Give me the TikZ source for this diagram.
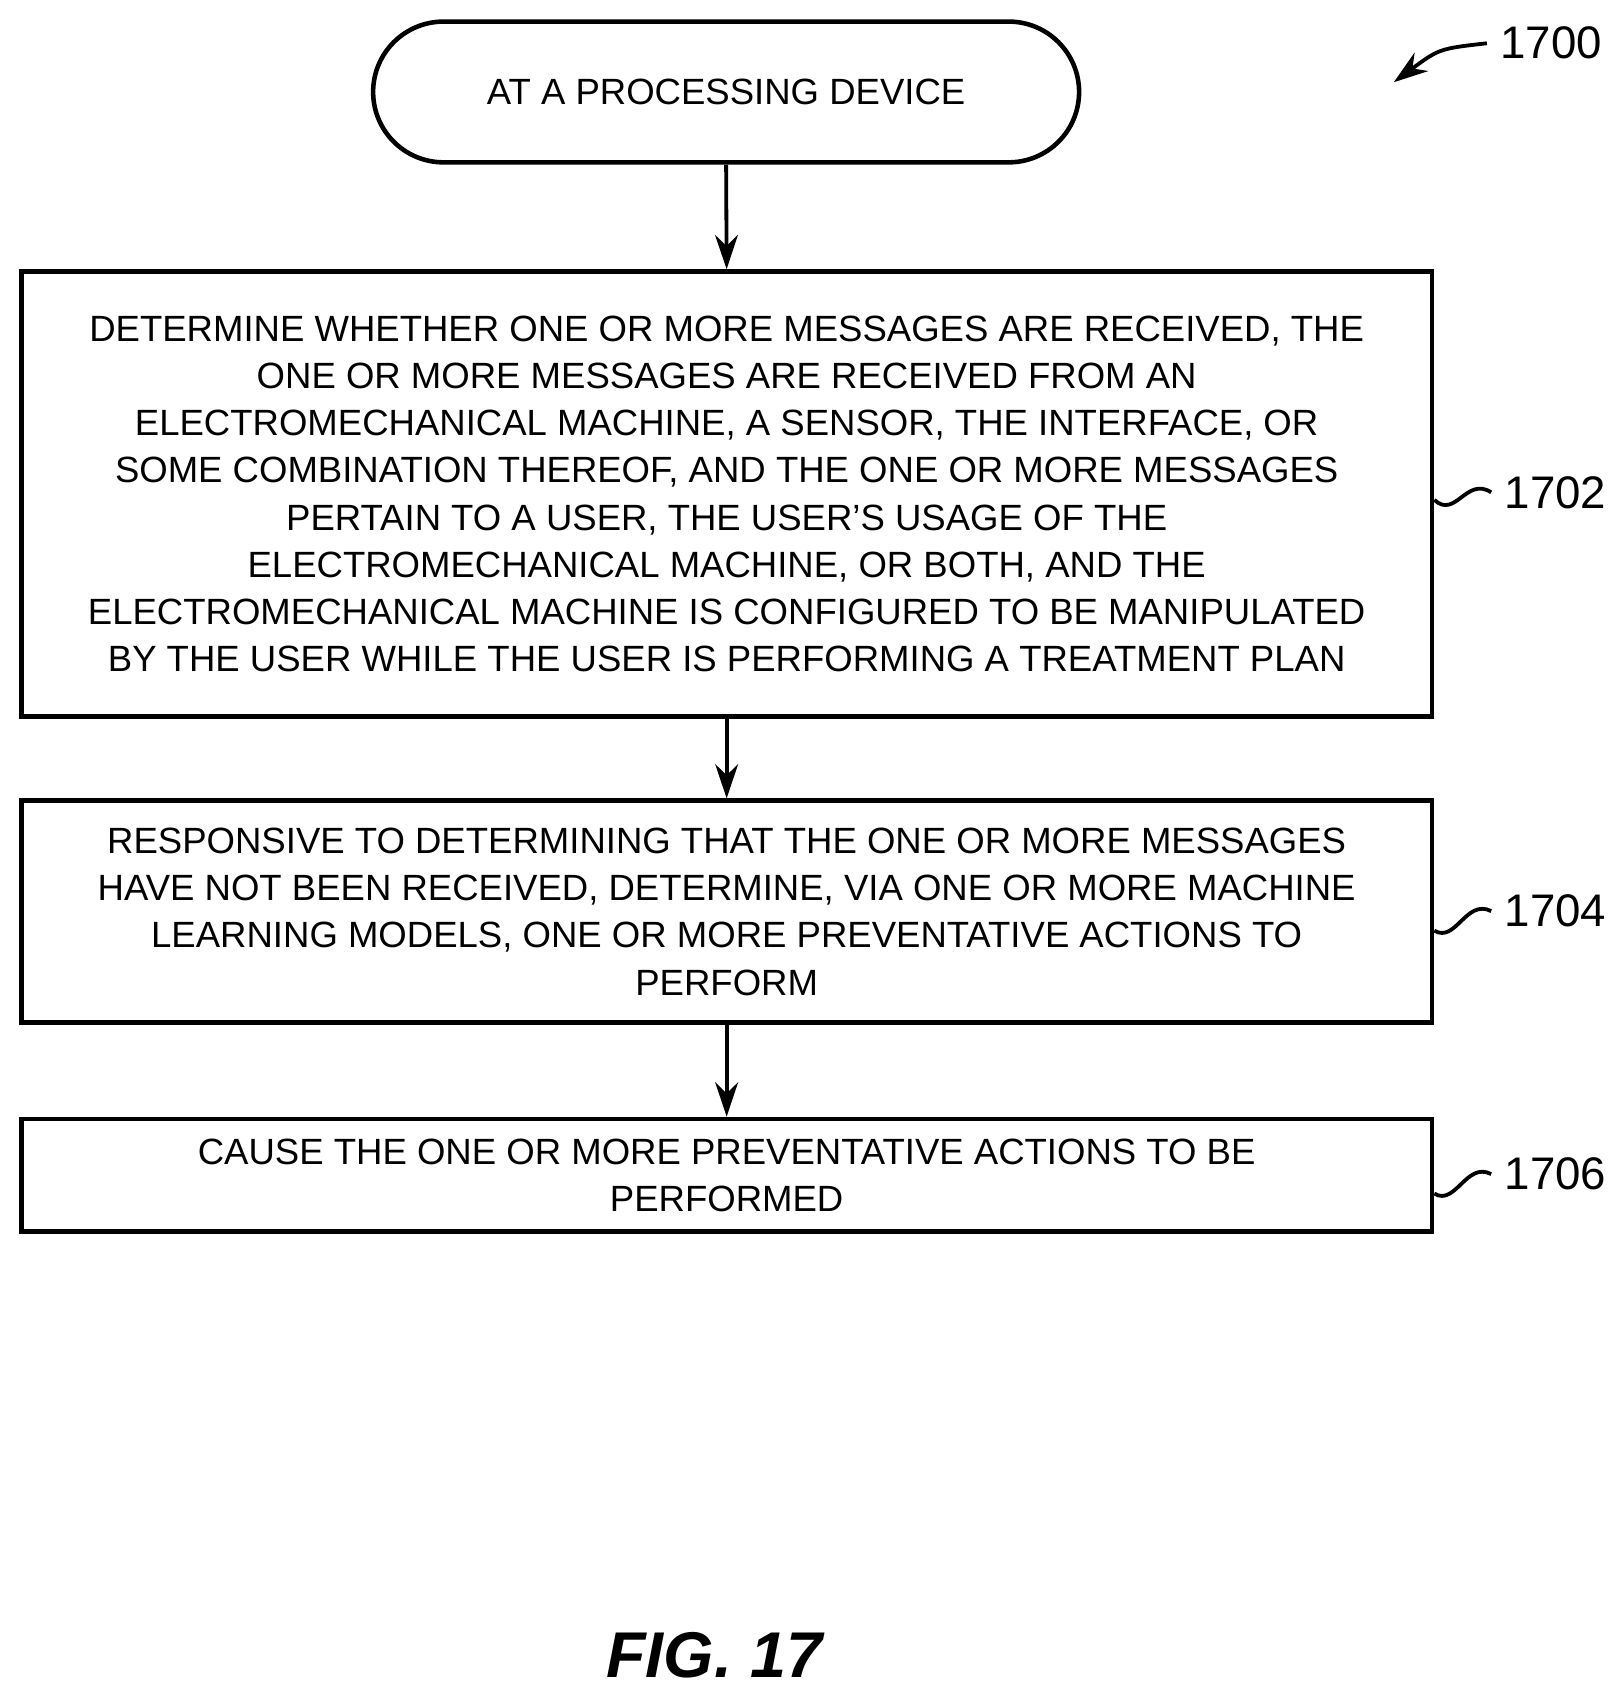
\documentclass[tikz,border=0pt]{standalone}
\usepackage{fontspec}
\setmainfont{Liberation Sans}
\usetikzlibrary{arrows.meta}
\begin{document}
\begin{tikzpicture}[x=0.01cm,y=-0.01cm,
 box/.style={draw,line width=1.2pt,inner sep=0pt},
 txt/.style={align=center,font=\fontsize{9.6pt}{12.4pt}\selectfont},
 arr/.style={-{Stealth[length=9pt,width=6pt]},line width=1pt},
 lab/.style={font=\fontsize{12pt}{14pt}\selectfont,anchor=west}]
\useasboundingbox (0,0) rectangle (1500,1571);
\node[box,rounded corners=0.65cm,minimum width=6.52cm,minimum height=1.3cm] (t) at (671,85) {};
\node[txt] at (t) {AT A PROCESSING DEVICE};
\node[box,minimum width=13.03cm,minimum height=4.11cm] (b1) at (671.5,456.5) {};
\node[txt] at (b1) {DETERMINE WHETHER ONE OR MORE MESSAGES ARE RECEIVED, THE\\ONE OR MORE MESSAGES ARE RECEIVED FROM AN\\ELECTROMECHANICAL MACHINE, A SENSOR, THE INTERFACE, OR\\SOME COMBINATION THEREOF, AND THE ONE OR MORE MESSAGES\\PERTAIN TO A USER, THE USER’S USAGE OF THE\\ELECTROMECHANICAL MACHINE, OR BOTH, AND THE\\ELECTROMECHANICAL MACHINE IS CONFIGURED TO BE MANIPULATED\\BY THE USER WHILE THE USER IS PERFORMING A TREATMENT PLAN};
\node[box,minimum width=13.03cm,minimum height=2.05cm] (b2) at (671.5,842.5) {};
\node[txt] at (b2) {RESPONSIVE TO DETERMINING THAT THE ONE OR MORE MESSAGES\\HAVE NOT BEEN RECEIVED, DETERMINE, VIA ONE OR MORE MACHINE\\LEARNING MODELS, ONE OR MORE PREVENTATIVE ACTIONS TO\\PERFORM};
\node[box,minimum width=13.03cm,minimum height=1.04cm] (b3) at (671.5,1086) {};
\node[txt] at (b3) {CAUSE THE ONE OR MORE PREVENTATIVE ACTIONS TO BE\\PERFORMED};
\draw[arr] (t.south) -- (b1.north);
\draw[arr] (b1.south) -- (b2.north);
\draw[arr] (b2.south) -- (b3.north);
\node[lab] (l2) at (1378,455) {1702};
\node[lab] (l4) at (1378,842) {1704};
\node[lab] (l6) at (1378,1085) {1706};
\node[lab] (l0) at (1374,40) {1700};
\draw[line width=1pt] (b1.east|-0,462) .. controls (1345,480) and (1355,440) .. (l2.west);
\draw[line width=1pt] (b2.east|-0,860) .. controls (1345,872) and (1355,830) .. (l4.west);
\draw[line width=1pt] (b3.east|-0,1103) .. controls (1345,1115) and (1355,1073) .. (l6.west);
\coordinate (a0) at (1288,76);
\draw[line width=1pt,-{Stealth[length=9pt,width=6pt]}] (l0.west) .. controls (1330,45) .. (a0);
\node[font=\bfseries\itshape\fontsize{17pt}{20pt}\selectfont] (fig) at (660,1530) {FIG. 17};
\end{tikzpicture}
\end{document}
